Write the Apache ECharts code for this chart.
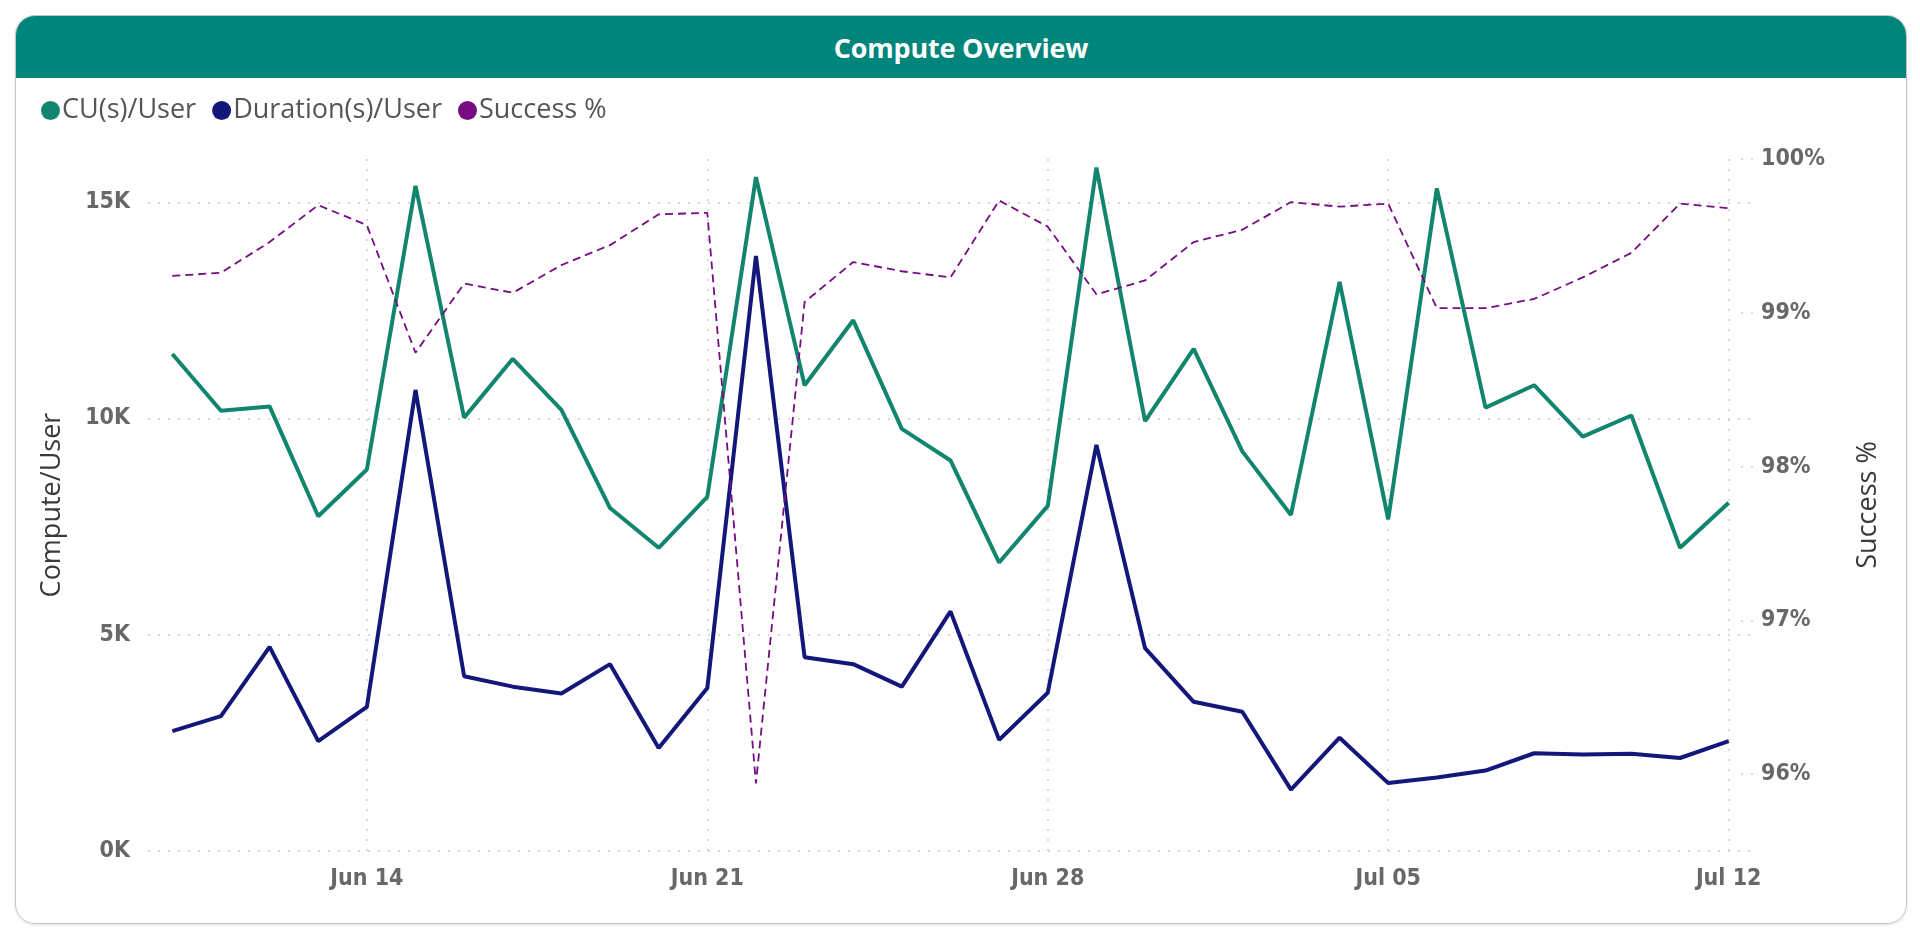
<!DOCTYPE html>
<html>
<head>
<meta charset="utf-8">
<title>Compute Overview</title>
<script src="https://cdn.jsdelivr.net/npm/echarts@6/dist/echarts.min.js"></script>
<style>
    html, body { margin: 0; padding: 0; background: #fff; width: 1920px; height: 935px; overflow: hidden; }
    .card {
        position: absolute; left: 15px; top: 15px; width: 1892px; height: 909px;
        border: 1px solid #c4c4c4; border-radius: 20px; box-sizing: border-box;
        box-shadow: 0 1px 3px rgba(0, 0, 0, 0.12); overflow: hidden;
    }
    .card-head {
        height: 62px; background: #00857a; color: #fff;
        font: bold 27px "Open Sans", sans-serif; text-align: center; line-height: 64px;
        letter-spacing: -0.2px;
    }
    #chart { position: absolute; left: 0; top: 0; width: 1920px; height: 935px; }
</style>
</head>
<body>
<div class="card"><div class="card-head">Compute Overview</div></div>
<div id="chart"></div>
<script>
const DATES = ['Jun 10', 'Jun 11', 'Jun 12', 'Jun 13', 'Jun 14', 'Jun 15', 'Jun 16', 'Jun 17', 'Jun 18',
    'Jun 19', 'Jun 20', 'Jun 21', 'Jun 22', 'Jun 23', 'Jun 24', 'Jun 25', 'Jun 26',
    'Jun 27', 'Jun 28', 'Jun 29', 'Jun 30', 'Jul 01', 'Jul 02', 'Jul 03', 'Jul 04',
    'Jul 05', 'Jul 06', 'Jul 07', 'Jul 08', 'Jul 09', 'Jul 10', 'Jul 11', 'Jul 12'];
const X_TICKS = ['Jun 14', 'Jun 21', 'Jun 28', 'Jul 05', 'Jul 12'];

const CU_PER_USER = [11490, 10180, 10280, 7740, 8820, 15380, 10020, 11380, 10200,
    7930, 7010, 8190, 15580, 10770, 12270, 9760, 9030,
    6670, 7980, 15800, 9940, 11610, 9240, 7770, 13160,
    7670, 15320, 10250, 10770, 9580, 10070, 7010, 8050];
const DURATION_PER_USER = [2770, 3120, 4720, 2540, 3330, 10660, 4040, 3800, 3640,
    4320, 2380, 3770, 13760, 4480, 4320, 3800, 5540,
    2570, 3660, 9390, 4690, 3450, 3220, 1420, 2620,
    1570, 1700, 1860, 2260, 2230, 2250, 2150, 2540];
const SUCCESS_PCT = [99.24, 99.26, 99.46, 99.70, 99.57, 98.74, 99.19, 99.13, 99.31,
    99.44, 99.64, 99.65, 95.94, 99.07, 99.33, 99.27, 99.23,
    99.73, 99.56, 99.12, 99.21, 99.46, 99.54, 99.72, 99.69,
    99.71, 99.03, 99.03, 99.09, 99.23, 99.39, 99.71, 99.68];

const LEFT_TICKS = [0, 5000, 10000, 15000];
const RIGHT_TICKS = [96, 97, 98, 99, 100];

const GREEN = '#12856f';
const NAVY = '#13177a';
const PURPLE = '#760c82';
const TICK_FONT = '"DejaVu Sans Condensed", "Liberation Sans Narrow", "Roboto", sans-serif';
const TEXT_FONT = '"Open Sans", sans-serif';
const GRID_LINE = { color: '#cdcdcd', width: 1.5, type: [2, 8] };

function tickLabel(extra = {}) {
    return { fontSize: 23, fontWeight: 'bold', color: '#686868', fontFamily: TICK_FONT, ...extra };
}

const xTickIdx = X_TICKS.map(t => DATES.indexOf(t));

const chart = echarts.init(document.getElementById('chart'), null, { renderer: 'canvas' });
chart.setOption({
    animation: false,
    legend: {
        left: 36, top: 92,
        icon: 'circle', itemWidth: 19, itemHeight: 19, itemGap: 16,
        textStyle: { fontSize: 27, color: '#555', fontFamily: TEXT_FONT, padding: [0, 0, 0, -3] },
        data: ['CU(s)/User', 'Duration(s)/User', 'Success %'],
    },
    grid: { left: 148, right: 167, top: 159, bottom: 84 },
    xAxis: {
        type: 'value', min: -0.5, max: DATES.length - 0.5,
        axisLine: { show: false },
        axisTick: { show: false, customValues: xTickIdx },
        axisLabel: tickLabel({ customValues: xTickIdx, margin: 17, formatter: v => DATES[Math.round(v)] }),
        splitLine: { show: true, lineStyle: GRID_LINE },
    },
    yAxis: [{
        type: 'value', min: 0, max: 16000,
        name: 'Compute/User', nameLocation: 'middle', nameGap: 82,
        nameTextStyle: { fontSize: 27, color: '#3a3a3a', fontFamily: TEXT_FONT },
        axisLine: { show: false },
        axisTick: { show: false, customValues: LEFT_TICKS },
        axisLabel: tickLabel({ customValues: LEFT_TICKS, margin: 18, formatter: v => (v / 1000) + 'K' }),
        splitLine: { show: true, lineStyle: GRID_LINE },
    }, {
        type: 'value', min: 95.5, max: 100, position: 'right',
        name: 'Success %', nameLocation: 'middle', nameGap: 102, nameRotate: 90,
        nameTextStyle: { fontSize: 27, color: '#3a3a3a', fontFamily: TEXT_FONT },
        axisLine: { show: false },
        axisTick: { show: true, inside: true, length: 14, customValues: RIGHT_TICKS, lineStyle: GRID_LINE },
        axisLabel: tickLabel({ customValues: RIGHT_TICKS, margin: 8, formatter: v => v + '%' }),
        splitLine: { show: false },
    }],
    series: [{
        name: 'CU(s)/User', type: 'line', yAxisIndex: 0,
        data: CU_PER_USER.map((v, i) => [i, v]),
        showSymbol: false, symbol: 'circle', color: GREEN,
        lineStyle: { width: 4, color: GREEN },
    }, {
        name: 'Duration(s)/User', type: 'line', yAxisIndex: 0,
        data: DURATION_PER_USER.map((v, i) => [i, v]),
        showSymbol: false, symbol: 'circle', color: NAVY,
        lineStyle: { width: 4, color: NAVY },
    }, {
        name: 'Success %', type: 'line', yAxisIndex: 1,
        data: SUCCESS_PCT.map((v, i) => [i, v]),
        showSymbol: false, symbol: 'circle', color: PURPLE,
        lineStyle: { width: 1.8, color: PURPLE, type: [8, 5] },
    }],
});
</script>
</body>
</html>
